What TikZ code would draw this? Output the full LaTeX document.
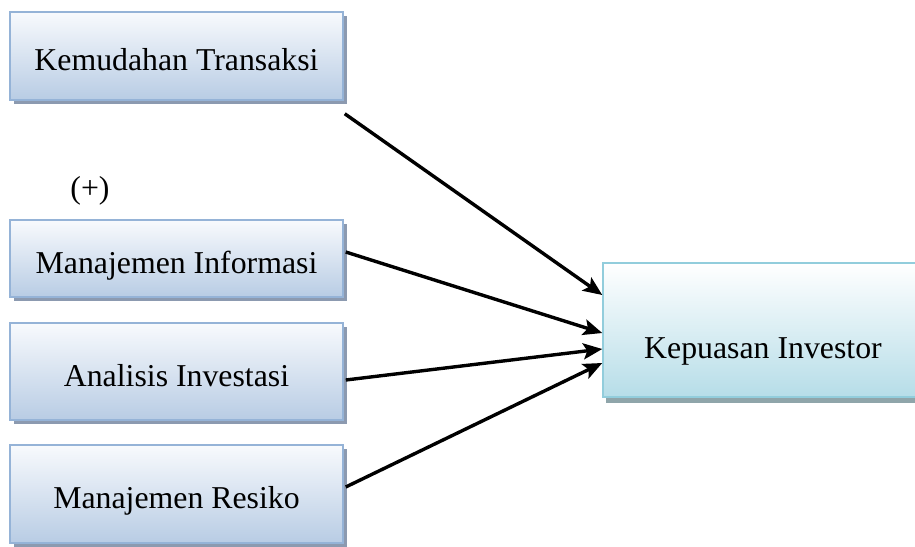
\documentclass[tikz,border=0pt]{standalone}
\usepackage{fontspec}
\setmainfont{Liberation Serif}
\usetikzlibrary{arrows.meta,calc,shadows}
\definecolor{bxtop}{HTML}{F8FAFD}
\definecolor{bxbot}{HTML}{B8CCE4}
\definecolor{bxline}{HTML}{95B3D7}
\definecolor{bxshadow}{HTML}{8C9AB0}
\definecolor{kptop}{HTML}{FFFFFF}
\definecolor{kpbot}{HTML}{B6DDE8}
\definecolor{kpline}{HTML}{92CDDC}
\definecolor{kpshadow}{HTML}{8FA5AA}
\tikzset{
  varbox/.style={rectangle, draw=bxline, line width=1.5pt, top color=bxtop, bottom color=bxbot,
    minimum width=333pt, inner sep=0pt, font=\fontsize{31.8}{36}\selectfont,
    text height=29pt, text depth=0pt,
    drop shadow={shadow xshift=4pt, shadow yshift=-4pt, fill=bxshadow, opacity=1}},
  kpbox/.style={rectangle, draw=kpline, line width=1.5pt, top color=kptop, bottom color=kpbot,
    minimum width=320pt, minimum height=134pt, inner sep=0pt, font=\fontsize{31.8}{36}\selectfont,
    text height=57pt, text depth=0pt,
    drop shadow={shadow xshift=3pt, shadow yshift=-6pt, fill=kpshadow, opacity=1}},
  conn/.style={line width=3.4pt, -{Stealth[length=19pt,width=16pt,inset=4pt]}},
  lbl/.style={font=\fontsize{31.8}{36}\selectfont, inner sep=0pt}
}
\begin{document}
\begin{tikzpicture}[x=1pt,y=-1pt]
\useasboundingbox (0,0) rectangle (915,546);
\node[varbox, minimum height=88pt] (kt) at (176.5,56) {Kemudahan Transaksi};
\node[lbl] (plus) at (90,191) {(+)};
\node[varbox, minimum height=77pt] (mi) at (176.5,258.5) {Manajemen Informasi};
\node[varbox, minimum height=97pt] (ai) at (176.5,371.5) {Analisis Investasi};
\node[varbox, minimum height=98pt] (mr) at (176.5,494) {Manajemen Resiko};
\node[kpbox] (kp) at (763,330) {Kepuasan Investor};
\draw[conn] ($(kt.south east)+(1,13)$) -- ($(kp.west)+(0,-35)$);
\draw[conn] ($(mi.east)+(2,-6.5)$) -- ($(kp.west)+(0,3)$);
\draw[conn] ($(ai.east)+(2,8.5)$) -- ($(kp.west)+(0,19)$);
\draw[conn] ($(mr.east)+(2,-7)$) -- ($(kp.west)+(0,33)$);
\end{tikzpicture}
\end{document}
